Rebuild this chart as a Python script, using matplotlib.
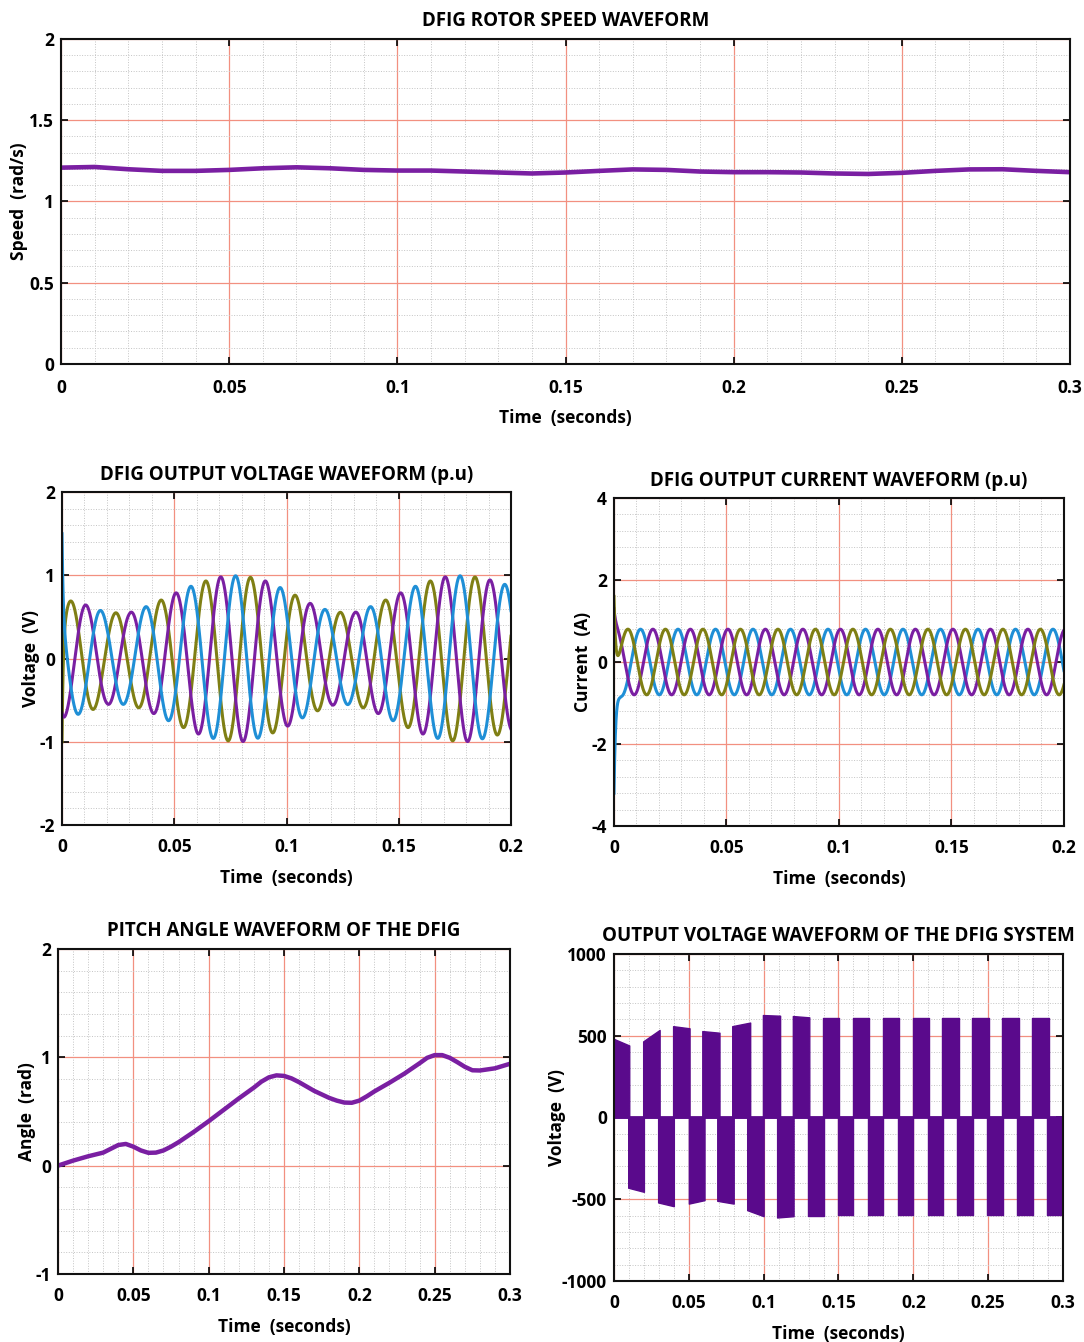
import numpy as np
import matplotlib
matplotlib.use("Agg")
import matplotlib.pyplot as plt
from matplotlib.ticker import AutoMinorLocator, FixedLocator
from matplotlib import font_manager

# ---------------- data ----------------
# Rotor speed (rad/s)
speed_t = [0.00, 0.01, 0.02, 0.03, 0.04, 0.05, 0.06, 0.07, 0.08, 0.09, 0.10,
           0.11, 0.12, 0.13, 0.14, 0.15, 0.16, 0.17, 0.18, 0.19, 0.20, 0.21,
           0.22, 0.23, 0.24, 0.25, 0.26, 0.27, 0.28, 0.29, 0.30]
speed_v = [1.208, 1.212, 1.198, 1.188, 1.188, 1.194, 1.204, 1.210, 1.204, 1.194, 1.190,
           1.190, 1.184, 1.178, 1.172, 1.178, 1.188, 1.197, 1.194, 1.184, 1.180, 1.180,
           1.178, 1.172, 1.169, 1.176, 1.188, 1.197, 1.198, 1.188, 1.180]

# DFIG output voltage (p.u): amplitude envelope, frequency, peak times, initial values
volt_env_t = [0.00, 0.01, 0.02, 0.03, 0.04, 0.05, 0.06, 0.07, 0.08, 0.09, 0.10,
              0.11, 0.12, 0.13, 0.14, 0.15, 0.16, 0.17, 0.18, 0.19, 0.20]
volt_env_v = [0.72, 0.65, 0.55, 0.55, 0.65, 0.78, 0.90, 0.98, 1.00, 0.94, 0.82,
              0.67, 0.56, 0.55, 0.65, 0.78, 0.90, 0.98, 1.00, 0.95, 0.87]
volt_freq = 50.0
volt_peak_t = {"olive": 0.0040, "purple": 0.0107, "blue": 0.0173}
volt_init = {"olive": -1.0, "purple": -0.65, "blue": 1.5}

# DFIG output current (p.u)
cur_amp = 0.8
cur_freq = 60.0
cur_peak_t = {"olive": 0.0062, "blue": 0.0118, "purple": 0.0173}
cur_init = {"olive": 1.6, "blue": -3.2, "purple": 1.3}

# Pitch angle (rad)
pitch_t = [0.000, 0.010, 0.020, 0.030, 0.035, 0.040, 0.045, 0.050, 0.055, 0.060, 0.065,
           0.070, 0.075, 0.080, 0.090, 0.100, 0.110, 0.120, 0.130, 0.135, 0.140, 0.145,
           0.150, 0.155, 0.160, 0.170, 0.180, 0.185, 0.190, 0.195, 0.200, 0.205, 0.210,
           0.220, 0.230, 0.240, 0.245, 0.250, 0.255, 0.260, 0.265, 0.270, 0.275, 0.280,
           0.285, 0.290, 0.300]
pitch_v = [0.000, 0.046, 0.086, 0.120, 0.155, 0.190, 0.200, 0.175, 0.140, 0.118, 0.120,
           0.140, 0.175, 0.216, 0.310, 0.410, 0.515, 0.620, 0.720, 0.775, 0.815, 0.833,
           0.828, 0.805, 0.770, 0.690, 0.625, 0.600, 0.582, 0.580, 0.600, 0.640, 0.685,
           0.765, 0.850, 0.945, 0.995, 1.020, 1.020, 0.995, 0.955, 0.912, 0.880, 0.878,
           0.888, 0.898, 0.940]

# Output voltage of the DFIG system: pulse blocks (start, end, level at start, level at end)
blk_start = [0.000, 0.0095, 0.0195, 0.0295, 0.0395, 0.0500, 0.0590, 0.0690, 0.0790, 0.0890,
             0.0995, 0.1090, 0.1195, 0.1295, 0.1395, 0.1495, 0.1595, 0.1695, 0.1795, 0.1895,
             0.1995, 0.2095, 0.2195, 0.2295, 0.2395, 0.2495, 0.2595, 0.2695, 0.2795, 0.2895]
blk_end = [0.0102, 0.0200, 0.0305, 0.0400, 0.0505, 0.0605, 0.0705, 0.0800, 0.0910, 0.1000,
           0.1110, 0.1200, 0.1305, 0.1400, 0.1505, 0.1600, 0.1705, 0.1800, 0.1905, 0.2000,
           0.2105, 0.2200, 0.2305, 0.2400, 0.2505, 0.2600, 0.2705, 0.2800, 0.2905, 0.3000]
blk_v0 = [480, -430, 465, -520, 558, -527, 528, -510, 558, -567,
          626, -612, 620, -600, 606, -598, 605, -598, 605, -598,
          605, -598, 605, -598, 605, -598, 605, -598, 605, -598]
blk_v1 = [440, -455, 535, -543, 545, -506, 518, -527, 580, -604,
          622, -604, 612, -600, 606, -598, 605, -598, 605, -598,
          605, -598, 605, -598, 605, -598, 605, -598, 605, -598]

# ---------------- styling ----------------
names = {f.name for f in font_manager.fontManager.ttflist}
FONT = "Liberation Sans Narrow" if "Liberation Sans Narrow" in names else "Open Sans"
plt.rcParams["font.family"] = [FONT, "DejaVu Sans"]
plt.rcParams["font.weight"] = "bold"

C_PURPLE = "#7a1fa2"
C_FILL = "#5a0a8c"
C_OLIVE = "#7f7f14"
C_BLUE = "#1f8fd6"
C_MAJOR = "#f29080"
C_MINOR = "#c4c4c4"

TICK_FS = 12.5
LAB_FS = 12.5
TITLE_FS = 13.5

fig = plt.figure(figsize=(10.84, 13.42), dpi=100)


def style(ax, xlim, xt, xtl, ylim, yt, ytl, title, ylabel, ypad=4, xpad=9.5, xlpad=9):
    ax.set_xlim(*xlim)
    ax.set_ylim(*ylim)
    ax.xaxis.set_major_locator(FixedLocator(xt))
    ax.yaxis.set_major_locator(FixedLocator(yt))
    ax.set_xticklabels(xtl, fontsize=TICK_FS, fontweight="bold")
    ax.set_yticklabels(ytl, fontsize=TICK_FS, fontweight="bold")
    ax.xaxis.set_minor_locator(AutoMinorLocator(5))
    ax.yaxis.set_minor_locator(AutoMinorLocator(5))
    ax.grid(which="major", color=C_MAJOR, lw=0.9, ls="-")
    ax.grid(which="minor", color=C_MINOR, lw=0.7, ls=":")
    ax.set_axisbelow(True)
    ax.tick_params(which="major", direction="in", length=5, width=1.2,
                   top=True, right=True)
    ax.tick_params(axis="x", which="major", pad=xpad)
    ax.tick_params(axis="y", which="major", pad=5)
    ax.tick_params(which="minor", length=0)
    for s in ax.spines.values():
        s.set_linewidth(1.5)
        s.set_color("#111111")
    ax.set_title(title, fontsize=TITLE_FS, fontweight="bold", pad=9)
    ax.set_xlabel("Time  (seconds)", fontsize=LAB_FS, fontweight="bold", labelpad=xlpad)
    ax.set_ylabel(ylabel, fontsize=LAB_FS, fontweight="bold", labelpad=ypad)


# ---- top: rotor speed ----
ax1 = fig.add_axes([0.0563, 0.7288, 0.9308, 0.2422])
ax1.plot(speed_t, speed_v, color=C_PURPLE, lw=3.3, solid_capstyle="butt",
         solid_joinstyle="round")
style(ax1, (0, 0.3), [0, 0.05, 0.1, 0.15, 0.2, 0.25, 0.3],
      ["0", "0.05", "0.1", "0.15", "0.2", "0.25", "0.3"],
      (0, 2), [0, 0.5, 1, 1.5, 2], ["0", "0.5", "1", "1.5", "2"],
      "DFIG ROTOR SPEED WAVEFORM", "Speed  (rad/s)", ypad=1, xpad=10.5, xlpad=9)

# ---- middle-left: voltage p.u ----
ax2 = fig.add_axes([0.0572, 0.3852, 0.4142, 0.2481])
tv = np.linspace(0, 0.2, 4001)
env = np.interp(tv, volt_env_t, volt_env_v)
env0 = volt_env_v[0]
for name, col in [("olive", C_OLIVE), ("purple", C_PURPLE), ("blue", C_BLUE)]:
    tp = volt_peak_t[name]
    steady = env * np.cos(2 * np.pi * volt_freq * (tv - tp))
    off = volt_init[name] - env0 * np.cos(2 * np.pi * volt_freq * (-tp))
    ax2.plot(tv, steady + off * np.exp(-tv / 0.0005), color=col, lw=2.2)
style(ax2, (0, 0.2), [0, 0.05, 0.1, 0.15, 0.2], ["0", "0.05", "0.1", "0.15", "0.2"],
      (-2, 2), [-2, -1, 0, 1, 2], ["-2", "-1", "0", "1", "2"],
      "DFIG OUTPUT VOLTAGE WAVEFORM (p.u)", "Voltage  (V)", ypad=0)

# ---- middle-right: current p.u ----
ax3 = fig.add_axes([0.5664, 0.3845, 0.4151, 0.2444])
tc = np.linspace(0, 0.2, 4001)
for name, col in [("blue", C_BLUE), ("purple", C_PURPLE), ("olive", C_OLIVE)]:
    tp = cur_peak_t[name]
    steady = cur_amp * np.cos(2 * np.pi * cur_freq * (tc - tp))
    off = cur_init[name] - cur_amp * np.cos(2 * np.pi * cur_freq * (-tp))
    ax3.plot(tc, steady + off * np.exp(-tc / 0.0008), color=col, lw=2.2)
style(ax3, (0, 0.2), [0, 0.05, 0.1, 0.15, 0.2], ["0", "0.05", "0.1", "0.15", "0.2"],
      (-4, 4), [-4, -2, 0, 2, 4], ["-4", "-2", "0", "2", "4"],
      "DFIG OUTPUT CURRENT WAVEFORM (p.u)", "Current  (A)", ypad=0)

# ---- bottom-left: pitch angle ----
ax4 = fig.add_axes([0.0535, 0.0507, 0.417, 0.2422])
ax4.plot(pitch_t, pitch_v, color=C_PURPLE, lw=3.2, solid_joinstyle="round")
style(ax4, (0, 0.3), [0, 0.05, 0.1, 0.15, 0.2, 0.25, 0.3],
      ["0", "0.05", "0.1", "0.15", "0.2", "0.25", "0.3"],
      (-1, 2), [-1, 0, 1, 2], ["-1", "0", "1", "2"],
      "PITCH ANGLE WAVEFORM OF THE DFIG", "Angle  (rad)", ypad=0)

# ---- bottom-right: output voltage of the system ----
ax5 = fig.add_axes([0.5664, 0.0455, 0.4142, 0.2437])
for s, e, v0, v1 in zip(blk_start, blk_end, blk_v0, blk_v1):
    ax5.fill_between([s, e], [0, 0], [v0, v1], color=C_FILL, lw=1.0, edgecolor=C_FILL)
ax5.plot([0, 0.3], [0, 0], color=C_FILL, lw=2.0)
style(ax5, (0, 0.3), [0, 0.05, 0.1, 0.15, 0.2, 0.25, 0.3],
      ["0", "0.05", "0.1", "0.15", "0.2", "0.25", "0.3"],
      (-1000, 1000), [-1000, -500, 0, 500, 1000], ["-1000", "-500", "0", "500", "1000"],
      "OUTPUT VOLTAGE WAVEFORM OF THE DFIG SYSTEM", "Voltage  (V)", ypad=0)
ax5.yaxis.set_label_coords(-0.107, 0.5)

fig.savefig("out.png", dpi=100, facecolor="white")
